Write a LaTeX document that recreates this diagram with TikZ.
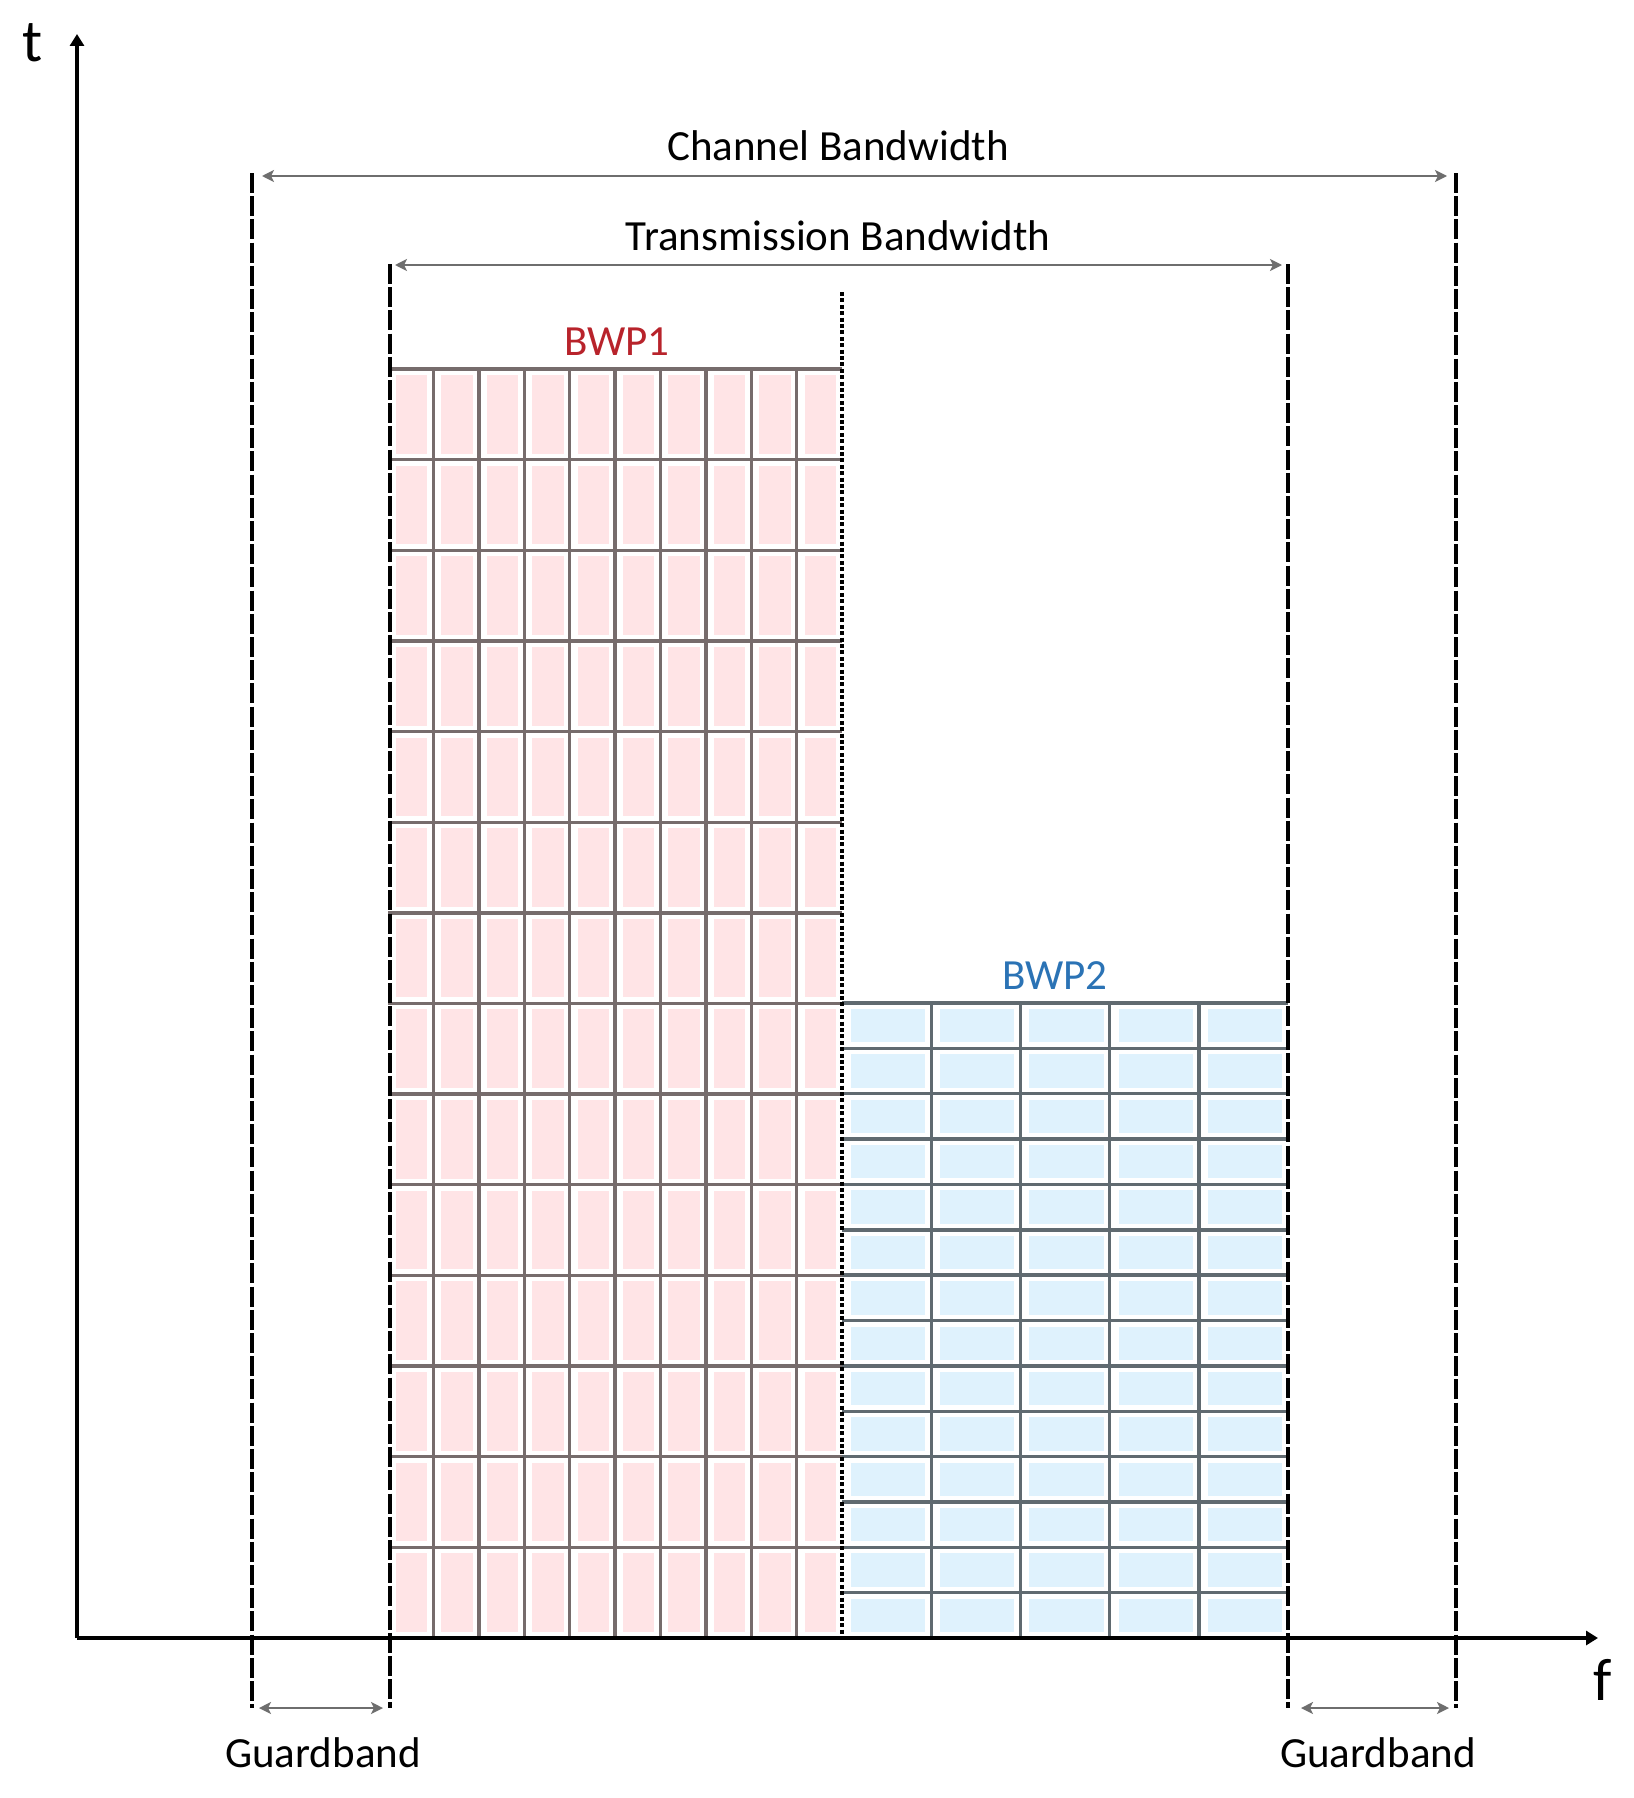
\documentclass[tikz,border=0pt]{standalone}
\usepackage{fontspec}
\setmainfont{Carlito}
\usetikzlibrary{arrows.meta}
\definecolor{pinkfill}{HTML}{FFE4E6}
\definecolor{bluefill}{HTML}{DFF2FD}
\definecolor{pinkline}{HTML}{766C6C}
\definecolor{blueline}{HTML}{606A70}
\definecolor{bwpred}{HTML}{B8232B}
\definecolor{bwpblue}{HTML}{2B73B5}
\definecolor{dimgrey}{HTML}{6E6E6E}
\tikzset{
  axisline/.style={line width=1.6pt, black, -{Triangle[length=6pt,width=7pt]}},
  bandedge/.style={line width=1.6pt, black, dash pattern=on 10pt off 1.6pt},
  bwpsplit/.style={line width=2.2pt, black, dash pattern=on 2pt off 1.2pt},
  dimarrow/.style={line width=1.3pt, dimgrey, {Stealth[length=6pt,width=6pt,inset=1.5pt]}-{Stealth[length=6pt,width=6pt,inset=1.5pt]}},
  gridp/.style={line width=1.7pt, pinkline},
  gridb/.style={line width=1.7pt, blueline},
  lbl/.style={font=\fontsize{21.5}{24}\selectfont, inner sep=0pt},
  axlbl/.style={font=\fontsize{30}{32}\selectfont, inner sep=0pt}
}
\begin{document}
\begin{tikzpicture}[x=0.5pt,y=-0.5pt]
\useasboundingbox (0,0) rectangle (1633,1798);
\fill[white] (0,0) rectangle (1633,1798);
% pink cells (BWP1)
\foreach \i in {0,...,9}{
  \foreach \j in {0,...,13}{
    \fill[pinkfill] ({388+45.4*\i+8},{369+90.64*\j+6}) rectangle ({388+45.4*(\i+1)-6},{369+90.64*(\j+1)-6});
  }
}
\foreach \i in {1,...,9}{\draw[gridp] ({388+45.4*\i},369) -- ({388+45.4*\i},1638);}
\foreach \j in {0,...,13}{\draw[gridp] (388,{369+90.64*\j}) -- (842,{369+90.64*\j});}
% blue cells (BWP2)
\foreach \i in {0,...,4}{
  \foreach \j in {0,...,13}{
    \fill[bluefill] ({842+89.2*\i+9},{1003+45.357*\j+6}) rectangle ({842+89.2*(\i+1)-6},{1003+45.357*(\j+1)-6});
  }
}
\foreach \i in {1,...,4}{\draw[gridb] ({842+89.2*\i},1003) -- ({842+89.2*\i},1638);}
\foreach \j in {0,...,13}{\draw[gridb] (842,{1003+45.357*\j}) -- (1288,{1003+45.357*\j});}

% coordinates
\coordinate (O) at (77,1638);
\coordinate (tend) at (77,34);
\coordinate (fend) at (1598,1638);
\coordinate (cbLtop) at (252,173);
\coordinate (cbLbot) at (252,1708);
\coordinate (cbRtop) at (1456,173);
\coordinate (cbRbot) at (1456,1708);
\coordinate (tbLtop) at (390,264);
\coordinate (tbLbot) at (390,1708);
\coordinate (tbRtop) at (1288,264);
\coordinate (tbRbot) at (1288,1708);
\coordinate (splittop) at (842,292);
\coordinate (splitbot) at (842,1638);
\coordinate (cbA) at (262,176);
\coordinate (cbB) at (1447,176);
\coordinate (tbA) at (395,265);
\coordinate (tbB) at (1282,265);
\coordinate (gLA) at (259,1708);
\coordinate (gLB) at (383,1708);
\coordinate (gRA) at (1301,1708);
\coordinate (gRB) at (1449,1708);

% axes
\draw[axisline] (O) -- (tend);
\draw[axisline] (O) -- (fend);
% band edges
\draw[bandedge] (cbLtop) -- (cbLbot);
\draw[bandedge] (cbRtop) -- (cbRbot);
\draw[bandedge] (tbLtop) -- (tbLbot);
\draw[bandedge] (tbRtop) -- (tbRbot);
\draw[bwpsplit] (splittop) -- (splitbot);
% dimension arrows
\draw[dimarrow] (cbA) -- (cbB);
\draw[dimarrow] (tbA) -- (tbB);
\draw[dimarrow] (gLA) -- (gLB);
\draw[dimarrow] (gRA) -- (gRB);

% labels
\node[lbl] (cbl) at (838,146) {Channel Bandwidth};
\node[lbl] (tbl) at (838,236) {Transmission Bandwidth};
\node[lbl, text=bwpred] (b1) at (617,342) {BWP1};
\node[lbl, text=bwpblue] (b2) at (1055,976) {BWP2};
\node[lbl] (g1) at (323,1753) {Guardband};
\node[lbl] (g2) at (1378,1753) {Guardband};
\node[axlbl] (tl) at (33,43) {t};
\node[axlbl] (fl) at (1603,1680) {f};
\end{tikzpicture}
\end{document}
